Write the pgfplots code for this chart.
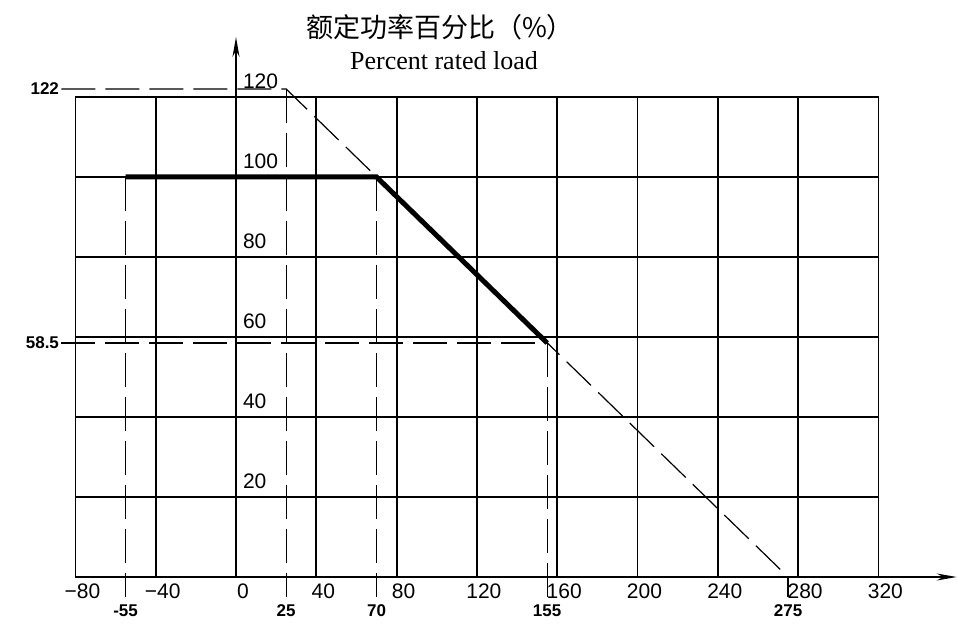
\documentclass[border=0pt]{standalone}
\usepackage{fontspec}
\setmainfont{Liberation Serif}
\newfontfamily\tickfont{Liberation Sans}
\newfontfamily\cjk{Noto Sans CJK SC}
\usepackage{pgfplots}
\pgfplotsset{compat=1.18}
\usetikzlibrary{arrows.meta}
\tikzset{dsh/.style={line width=0.6pt, dash pattern=on 17pt off 5pt}}

\begin{document}
\begin{tikzpicture}
\begin{axis}[
  scale only axis, x=1.00375pt, y=2pt,
  xmin=-80, xmax=320, ymin=0, ymax=120,
  xtick={-80,-40,...,320},
  xticklabels={−80,−40,0,40,80,120,160,200,240,280,320},
  ytick={20,40,...,120},
  yticklabels={20,40,60,80,100,120},
  grid=major, grid style={black, line width=0.9pt},
  axis line style={line width=0.9pt},
  major tick length=0pt,
  ticklabel style={font=\tickfont\fontsize{10.5}{12}\selectfont},
  xticklabel style={xshift=3.5pt},
  yticklabel style={anchor=south west, xshift=80.3pt, yshift=0.5pt},
  clip=false,
]
% derating curve
\addplot[line width=2.5pt] coordinates {(-55,100) (70,100) (155,58.5)};
% construction lines
\addplot[dsh] coordinates {(-87,122) (25,122) (275,0)};
\addplot[dsh] coordinates {(-87,58.5) (155,58.5)};
\addplot[dsh] coordinates {(-55,100) (-55,-5)};
\addplot[dsh] coordinates {(25,122) (25,-5)};
\addplot[dsh] coordinates {(70,100) (70,-5)};
\addplot[dsh] coordinates {(155,58.5) (155,-5)};
\addplot[dsh] coordinates {(275,0) (275,-5)};

% axes arrows
\draw[line width=0.9pt, -{Stealth[length=10pt,width=3.5pt]}] (axis cs:0,0) -- (axis cs:0,135);
\draw[line width=0.9pt, -{Stealth[length=10pt,width=3.5pt]}] (axis cs:-80,0) -- (axis cs:359,0);

% titles
\node[font=\cjk\fontsize{13.5}{15}\selectfont] at (axis cs:101.6,137.5) {额定功率百分比（\%）};
\node[font=\fontsize{13}{15}\selectfont] at (axis cs:103.6,129) {Percent rated load};

% construction labels
\begin{scope}[every node/.style={font=\tickfont\bfseries\fontsize{8.5}{10}\selectfont, inner sep=1pt}]
\node[anchor=east] at (axis cs:-87,122) {122};
\node[anchor=east] at (axis cs:-87,58.5) {58.5};
\node at (axis cs:-55,-8.5) {-55};
\node at (axis cs:25,-8.5) {25};
\node at (axis cs:70,-8.5) {70};
\node at (axis cs:155,-8.5) {155};
\node at (axis cs:275,-8.5) {275};
\end{scope}

\coordinate (bbtl) at (axis cs:-117.56,144.25);
\coordinate (bbbr) at (axis cs:368.12,-14);
\end{axis}
\pgfresetboundingbox
\path[use as bounding box] (bbtl) rectangle (bbbr);
\end{tikzpicture}
\end{document}
